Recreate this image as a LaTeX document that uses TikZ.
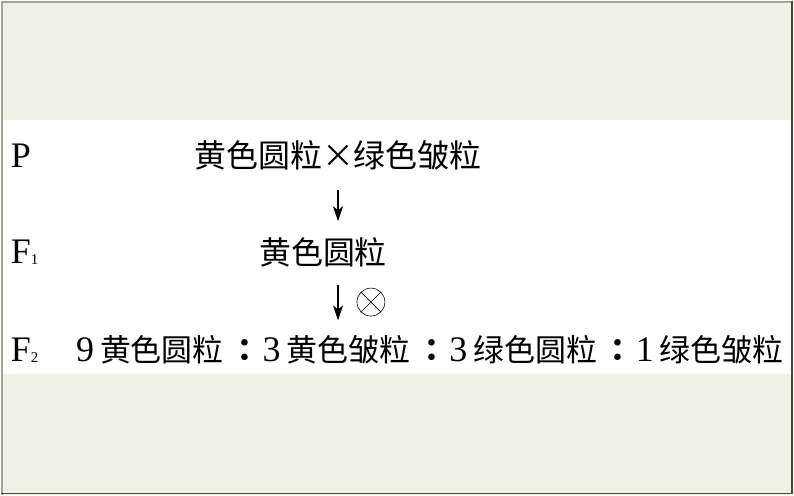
\documentclass[tikz,border=0pt]{standalone}
\usepackage{fontspec}
\setmainfont{Liberation Serif}
\newfontfamily\cjk{Noto Sans CJK SC}
\newfontfamily\cjktc{Noto Sans CJK TC}
\usetikzlibrary{arrows.meta,positioning}
\definecolor{pagegreen}{RGB}{238,241,227}
\definecolor{framegray}{RGB}{160,164,146}
\definecolor{framedark}{RGB}{70,72,62}
\tikzstyle{arrow} = [line width=1.2pt,-{Stealth[length=15pt,width=10pt,inset=4pt]}]
\tikzstyle{genlabel} = [anchor=west, inner sep=0pt, font=\fontsize{36}{36}\selectfont]
\tikzstyle{seedtext} = [inner sep=0pt, font=\fontsize{32}{32}\selectfont\cjk]
\tikzstyle{ratiotext} = [inner sep=0pt, font=\fontsize{36}{36}\selectfont]
\newcommand{\gensub}[1]{\raisebox{-1pt}{\fontsize{15}{15}\selectfont #1}}
\newcommand{\seed}[1]{{\fontsize{31}{31}\selectfont\cjk #1}}
\newcommand{\ratiomark}{\hspace{6pt}{\fontsize{31}{31}\selectfont\cjktc\bfseries ：}\hspace{2pt}}

\begin{document}
\begin{tikzpicture}[x=1pt,y=-1pt]
% page
\fill[pagegreen] (0,0) rectangle (794,495);
\fill[white] (0,120) rectangle (794,374);
\draw[framegray, line width=2pt] (1,495) -- (1,1) -- (794,1);
\draw[framedark, line width=1.5pt] (793,0) -- (793,494) -- (0,494);

% P
\node[genlabel] (pLabel) at (10,155) {P};
\node[seedtext] (pCross) at (338,155) {黄色圆粒×绿色皱粒};

% F1
\node[genlabel] (f1Label) at (10,252) {F\gensub{1}};
\node[seedtext] (f1Seed) at (323,252) {黄色圆粒};

% F2
\node[genlabel] (f2Label) at (10,350) {F\gensub{2}};
\node[ratiotext] (f2Ratio) at (430,350) {9\hspace{6pt}\seed{黄色圆粒}\ratiomark 3\hspace{6pt}\seed{黄色皱粒}\ratiomark 3\hspace{6pt}\seed{绿色圆粒}\ratiomark 1\hspace{6pt}\seed{绿色皱粒}};

% crossing arrows
\draw[arrow, shorten <=20pt, shorten >=16pt] (pCross.south) -- (pCross.south |- f1Seed.north);
\draw[arrow, shorten <=18pt, shorten >=15pt] (pCross.south |- f1Seed.south) -- (pCross.south |- f2Ratio.north);
\node[circle, draw, semithick, minimum size=28pt, inner sep=0pt] (selfing) at (371,302) {};
\draw[semithick] (selfing.45) -- (selfing.225) (selfing.135) -- (selfing.315);
\end{tikzpicture}
\end{document}
